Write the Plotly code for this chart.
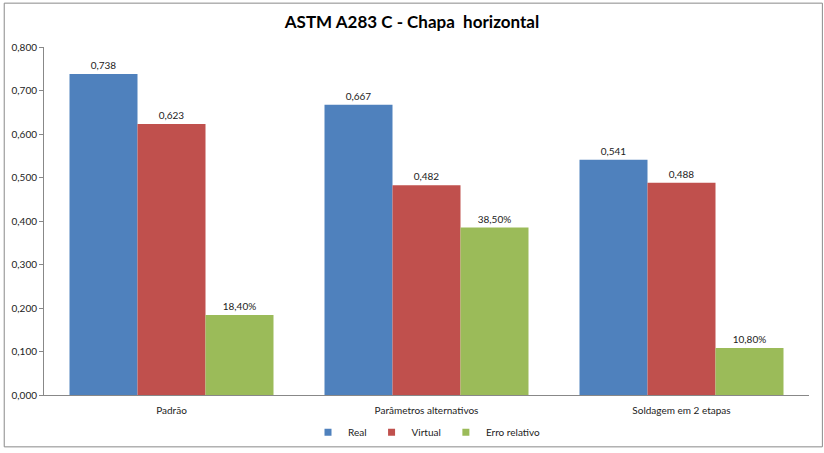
import plotly.graph_objects as go

categories = ["Padrão", "Parâmetros alternativos", "Soldagem em 2 etapas"]
real = [0.738, 0.667, 0.541]
virtual = [0.623, 0.482, 0.488]
erro = [0.184, 0.385, 0.108]
erro_labels = ["18,40%", "38,50%", "10,80%"]
yticks = [0, 0.1, 0.2, 0.3, 0.4, 0.5, 0.6, 0.7, 0.8]
ytick_text = ["0,000", "0,100", "0,200", "0,300", "0,400", "0,500", "0,600", "0,700", "0,800"]
series = [("Real", real, "#4F81BD"), ("Virtual", virtual, "#C0504D"), ("Erro relativo", erro, "#9BBB59")]

def fmt(v):
    return f"{v:.3f}".replace(".", ",")

font = "Lato, 'Open Sans', sans-serif"
fig = go.Figure()
for name, vals, col in series:
    labels = erro_labels if name == "Erro relativo" else [fmt(v) for v in vals]
    fig.add_trace(go.Bar(name=name, x=categories, y=vals, marker_color=col,
                         text=labels, textposition="outside", showlegend=False))
for name, vals, col in series:
    fig.add_trace(go.Scatter(name=name, x=[None], y=[None], mode="markers",
                             marker=dict(symbol="square", size=7, color=col)))
fig.update_traces(selector=dict(type="bar"), textfont=dict(size=10, color="#222"),
                  cliponaxis=False, marker_line_width=0)

fig.update_layout(
    width=824, height=453,
    barmode="group", bargap=0.2, bargroupgap=0,
    plot_bgcolor="white", paper_bgcolor="white",
    margin=dict(l=44, r=15, t=47, b=58, autoexpand=False),
    title=dict(text="<b>ASTM A283 C - Chapa  horizontal</b>", x=0.5, xanchor="center",
               y=0.952, yanchor="middle", font=dict(size=17, family=font, color="#000")),
    font=dict(family=font, size=10, color="#222"),
    showlegend=True,
    legend=dict(orientation="h", x=0.5, xanchor="center", yref="container", y=0.046,
                yanchor="middle", font=dict(size=10), itemwidth=30, traceorder="normal",
                bgcolor="rgba(0,0,0,0)", tracegroupgap=0),
    shapes=[dict(type="rect", xref="paper", yref="paper", x0=-0.052, x1=1.0175,
                 y0=-0.149, y1=1.126, line=dict(color="#8a8a8a", width=1))],
)
fig.update_yaxes(range=[0, 0.8], tickvals=yticks, ticktext=ytick_text, showgrid=False,
                 showline=True, linecolor="#888", linewidth=1, ticks="outside",
                 ticklen=4, tickcolor="#888", zeroline=False, tickfont=dict(size=10))
fig.update_xaxes(showline=True, linecolor="#888", linewidth=1, tickfont=dict(size=10),
                 ticks="", ticklabelstandoff=6)
fig.write_html("out.html")
